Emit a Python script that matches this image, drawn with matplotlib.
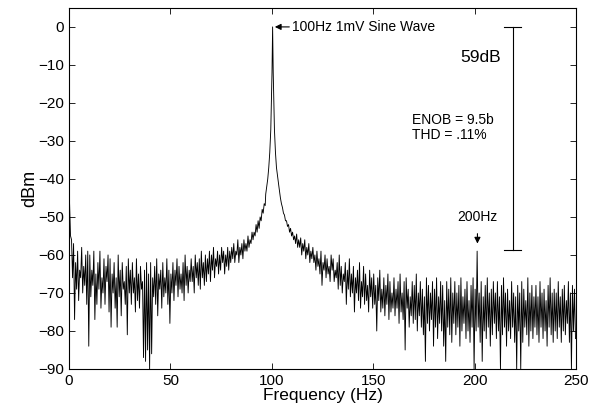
import matplotlib
matplotlib.use("Agg")
import matplotlib.pyplot as plt
import numpy as np

# noise floor read per 1 Hz bin: upper and lower excursion (dBm)
left_hi = [
    -46, -56, -57, -62, -59, -64, -58, -63, -60, -59,
    -60, -64, -59, -65, -62, -59, -66, -61, -63, -60,
    -61, -65, -62, -66, -60, -64, -62, -67, -63, -61,
    -64, -62, -66, -61, -65, -63, -67, -64, -62, -65,
    -62, -66, -63, -61, -65, -64, -62, -66, -61, -64,
    -65, -62, -64, -61, -63, -65, -62, -60, -63, -64,
    -61, -63, -60, -62, -61, -59, -62, -60, -61, -59,
    -60, -58, -61, -59, -60, -58, -59, -60, -58, -59,
    -58, -57, -59, -56, -58, -57, -56, -57, -55, -56,
    -54, -54, -52, -51, -50, -48, -46.5,
]
left_lo = [
    -55, -66, -77, -69, -72, -66, -70, -68, -73, -84,
    -71, -68, -77, -73, -69, -74, -70, -73, -67, -75,
    -79, -70, -74, -79, -71, -76, -69, -73, -81, -70,
    -73, -70, -75, -72, -74, -69, -87, -88, -85, -90,
    -86, -71, -73, -76, -69, -74, -71, -70, -73, -78,
    -70, -72, -68, -71, -69, -70, -72, -68, -70, -67,
    -67, -70, -66, -68, -69, -66, -68, -67, -65, -67,
    -64, -66, -63, -65, -64, -62, -65, -63, -64, -62,
    -61, -62, -60, -62, -60, -61, -59, -59, -58, -57,
    -56, -55, -54, -53, -51, -49, -47,
]
right_start = 104
right_hi = [
    -45, -47.5, -49.5, -51, -52, -53,
    -54, -55, -54.5, -56, -55.5, -57, -56, -58, -57, -59,
    -58, -60, -59, -61, -59, -62, -60, -61, -63, -60,
    -61, -64, -62, -60, -63, -65, -62, -64, -61, -65,
    -63, -66, -64, -62, -67, -63, -65, -68, -64, -66,
    -65, -68, -66, -64, -69, -66, -68, -65, -67, -70,
    -66, -69, -67, -65, -70, -67, -66, -69, -71, -67,
    -68, -65, -70, -67, -69, -71, -66, -68, -70, -67,
    -69, -66, -71, -67, -68, -72, -67, -69, -66, -70,
    -67, -70, -68, -66, -71, -69, -67, -72, -68, -66,
    -69, -59, -70, -67, -71, -68, -66, -70, -69, -67,
    -70, -67, -71, -68, -66, -70, -69, -72, -67, -70,
    -71, -68, -70, -67, -69, -72, -66, -70, -68, -71,
    -68, -71, -67, -70, -69, -72, -68, -66, -70, -69,
    -70, -67, -71, -69, -68, -72, -67, -70, -68, -69,
]
right_lo = [
    -46.5, -49, -51, -52.5, -54, -55,
    -56, -57, -58, -58, -60, -59, -61, -60, -62, -61,
    -62, -64, -63, -65, -68, -64, -66, -65, -67, -64,
    -67, -66, -69, -68, -70, -67, -73, -69, -71, -70,
    -75, -70, -72, -74, -71, -73, -72, -75, -71, -74,
    -73, -80, -72, -75, -74, -76, -73, -77, -75, -74,
    -76, -74, -78, -75, -77, -85, -74, -79, -76, -78,
    -77, -80, -76, -79, -81, -88, -78, -80, -77, -84,
    -79, -82, -78, -80, -84, -88, -79, -81, -83, -78,
    -81, -79, -84, -80, -78, -82, -80, -83, -79, -90,
    -80, -79, -83, -88, -80, -82, -79, -84, -81, -78,
    -82, -80, -90, -81, -79, -84, -80, -82, -79, -83,
    -90, -80, -90, -83, -79, -81, -84, -80, -82, -79,
    -81, -83, -79, -82, -80, -84, -79, -81, -83, -80,
    -82, -79, -83, -80, -81, -78, -83, -90, -80, -82,
]

# the 100 Hz tone itself
peak_hz = [97, 97.5, 98, 98.5, 99, 99.5, 99.8, 100.1, 100.4,
           100.7, 101.0, 101.3, 101.8, 102.3, 103, 103.5, 104]
peak_dbm = [-44, -42, -40, -37, -33, -27, -20, -12, 0,
            -12, -20, -27, -33, -37, -40, -42, -44]


def zigzag(start, hi, lo):
    bins = start + np.arange(len(hi))
    x = np.column_stack([bins + 0.25, bins + 0.75]).ravel()
    y = np.column_stack([hi, lo]).ravel()
    return x, y


xl, yl = zigzag(0, left_hi, left_lo)
xr, yr = zigzag(right_start, right_hi, right_lo)
freq = np.concatenate([xl, peak_hz, xr])
dbm = np.concatenate([yl, peak_dbm, yr])

plt.rcParams["font.family"] = ["Liberation Sans", "DejaVu Sans"]
plt.rcParams["xtick.direction"] = "in"
plt.rcParams["ytick.direction"] = "in"

fig = plt.figure(figsize=(6.0, 4.16), dpi=100)
ax = fig.add_axes([0.115, 0.113, 0.845, 0.868])
ax.plot(freq, dbm, color="black", lw=0.65)

ax.set_xlim(0, 250)
ax.set_ylim(-90, 5)
ax.set_xticks(range(0, 251, 50))
ax.set_yticks(range(-90, 1, 10))
ax.tick_params(top=True, right=True, labelsize=11, length=4, width=0.6)
for spine in ax.spines.values():
    spine.set_linewidth(0.8)
ax.set_xlabel("Frequency (Hz)", fontsize=12.5, labelpad=0)
ax.set_ylabel("dBm", fontsize=13, labelpad=0)

ax.annotate("100Hz 1mV Sine Wave", xy=(101.5, 0), xytext=(110, 0),
            fontsize=10, va="center", ha="left",
            arrowprops=dict(arrowstyle="-|>", color="black", lw=0.8,
                            shrinkA=0, shrinkB=0, mutation_scale=9))

ax.annotate("200Hz", xy=(201.4, -57), xytext=(201.4, -50),
            fontsize=10, va="center", ha="center",
            arrowprops=dict(arrowstyle="-|>", color="black", lw=0.8,
                            shrinkA=5, shrinkB=0, mutation_scale=9))

# 59 dB span marker
ax.plot([218.7, 218.7], [0, -58.8], color="black", lw=0.8)
ax.plot([214.6, 222.7], [0, 0], color="black", lw=0.8)
ax.plot([214.6, 222.7], [-58.8, -58.8], color="black", lw=0.8)
ax.text(213, -8, "59dB", fontsize=12.5, ha="right", va="center")
ax.text(169, -26.5, "ENOB = 9.5b\nTHD = .11%", fontsize=10,
        ha="left", va="center", linespacing=1.1)

fig.savefig("out.png", dpi=100)
